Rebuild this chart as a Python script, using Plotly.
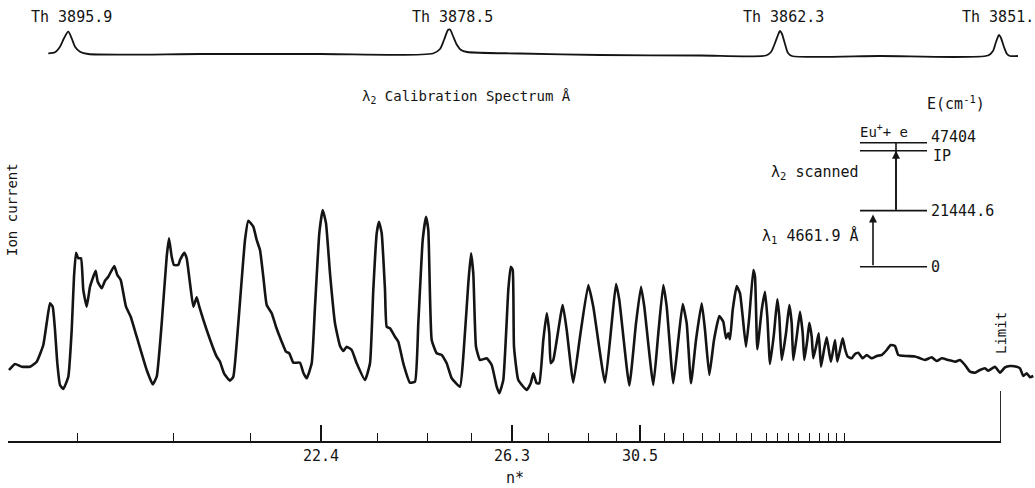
import plotly.graph_objects as go

W, H = 1035, 488
INK = "#141414"
FONT = "DejaVu Sans Mono"

# ---------------- data ----------------
# Ion-current spectrum: scan position (lambda2 scan, chart units) vs ion current (arb. units)
scan_pos = [9, 15, 21.7, 30, 36.7, 43.3, 46.7, 50, 52.7, 55,
            57.3, 60, 63.3, 68.3, 71.7, 74, 76, 78.3, 81, 83.3,
            86.7, 90, 93.3, 95.7, 97.7, 101.7, 105, 108.3, 114.3, 117.3,
            120.7, 126, 130.7, 136.7, 146.7, 152.7, 156.7, 161.7, 166.7, 169,
            171.7, 174, 178.3, 180, 184.3, 186.7, 190, 193.3, 196.7, 199.3,
            206.7, 216.7, 220, 224, 230, 233.3, 238.3, 245, 248.3, 253.3,
            256.7, 260, 263.3, 266.7, 271.7, 276, 281.7, 286, 289.3, 293.3,
            300, 303.3, 306.7, 311.7, 315, 319.3, 322.7, 326, 330, 335,
            340, 343.3, 346.7, 351.7, 356.7, 365, 370, 373.3, 376.7, 379,
            381.7, 385, 386.7, 390, 395, 398.3, 403.3, 410, 415, 418.3,
            422.7, 426, 428.3, 431.7, 436.7, 441.7, 446.7, 451.7, 460, 463.3,
            468.3, 471, 473.3, 476, 480, 486.7, 491.7, 496.7, 499.3, 503.3,
            508.3, 510.7, 512.7, 514, 518.3, 526.7, 530.7, 533.3, 536.7, 539.3,
            543.3, 546.7, 549.3, 550.7, 553.3, 562.7, 566.7, 573.3, 580, 588.3,
            593.3, 605, 611.7, 616, 619.3, 629.3, 636, 641, 644.3, 653.3,
            658.3, 663.3, 666.7, 673.3, 678.3, 682.7, 686.7, 691, 696, 701.7,
            705, 709.3, 714, 719.3, 723.3, 726, 728.3, 730, 732.7, 736.7,
            740, 742.7, 746, 749.3, 753.3, 755, 757.3, 761.7, 765, 767.3,
            770, 774, 777.3, 779.3, 781.7, 786, 789.3, 791.7, 793.3, 796.7,
            800, 802.7, 804.3, 807.3, 809.3, 811.7, 813.3, 816.7, 818.7, 821,
            824, 826.7, 829.3, 831, 835, 837.3, 840.7, 842.7, 845.3, 847.7,
            851.7, 855, 858.3, 862.7, 866.7, 871.7, 876.7, 881.7, 886.7, 890.7,
            895, 898.3, 906.7, 915, 920, 925, 931.7, 936.7, 941.7, 948.3,
            955, 960, 965, 970, 975, 980, 985, 988.3, 995, 1000,
            1005, 1010, 1016.7, 1020, 1023.3, 1026.7, 1030, 1033.3]
ion_current = [30, 36, 33.3, 33.3, 38.3, 55, 77, 96.7, 93.3, 70,
               37, 15, 11, 23.3, 70, 123.3, 147.3, 141.7, 141.7, 110,
               93.3, 113.3, 123.3, 129.3, 118.3, 111.7, 119.3, 123.3, 134, 125,
               120, 93.3, 83.3, 63.3, 30, 15.7, 23.3, 76.7, 143.3, 161.7,
               143.3, 135, 135, 140, 147.3, 141.7, 116.7, 93.3, 102.7, 93.3,
               70, 43.3, 38.3, 26.7, 19.3, 23.3, 76.7, 160, 179.3, 173.3,
               160, 150, 123.3, 95, 86.7, 73.3, 58.3, 48.3, 46.7, 37.3,
               37.3, 27.3, 21.7, 36.7, 93.3, 166.7, 190, 176.7, 126.7, 76.7,
               54, 49, 53.3, 50, 36.7, 20, 36.7, 110, 166.7, 178.3,
               166.7, 110, 73.3, 71.7, 63.3, 58.3, 36.7, 17.3, 18.3, 76.7,
               160, 183.3, 170, 60, 46.7, 45, 36.7, 21.7, 13.3, 43.3,
               116.7, 146.7, 126.7, 53.3, 40, 41.7, 35, 13.3, 6.7, 20,
               110, 133.3, 130, 53.3, 20, 10, 16.7, 26.7, 16.7, 16.7,
               60, 86.7, 66.7, 36.7, 40, 95, 70, 17.3, 63.3, 115,
               93.3, 17.3, 76.7, 116, 100, 14.5, 76.7, 113.3, 93.3, 15,
               66.7, 115, 93.3, 16.7, 60, 96, 76.7, 16.7, 60, 96.7,
               70, 25, 60, 84, 78.3, 61.7, 66.7, 60.7, 90, 114,
               106.7, 83.3, 53.3, 83.3, 130, 123.3, 50.7, 90, 108.3, 83.3,
               36, 66.7, 100.7, 83.3, 40, 66.7, 95, 76.7, 40, 63.3,
               88.3, 66.7, 40, 60, 77.3, 63.3, 41.7, 56.7, 66.7, 33.3,
               50, 62.7, 46.7, 38.3, 60, 38.3, 53.3, 61.7, 50, 43.3,
               41.7, 46, 47.3, 41.7, 45, 41.7, 44, 45, 50, 55,
               54, 45, 44, 43.5, 41.7, 40, 42.7, 39, 41.7, 40,
               38.3, 40, 35, 28.3, 27.3, 30, 31.7, 29.3, 33.3, 27.3,
               32.7, 34, 33.3, 31.7, 24, 26.7, 22.7, 24]

# lambda2 calibration spectrum (Th lines), same scan axis
cal_pos = [48.3, 55, 60, 64, 68.3, 71.7, 75, 80, 88.3, 200, 320,
           433, 440, 444, 448, 450, 453, 457, 461, 467, 520,
           600, 700, 766, 771, 775, 778, 780, 782, 785, 788, 792, 880,
           988, 993, 996, 999, 1001, 1004, 1007, 1010, 1018]
cal_intensity = [6.7, 7.7, 13.3, 21.7, 28.3, 21.7, 13.3, 8.3, 6, 6, 6,
                 6.5, 11, 20, 30, 30.5, 24, 15, 10, 8, 6.5,
                 5, 4.5, 4.5, 8, 17, 25, 29, 26, 16, 7, 4, 4,
                 4.5, 9, 18, 25, 22, 13, 6, 4, 4]
cal_peak_pos = [68.3, 449, 780, 999]
cal_labels = ["Th 3895.9", "Th 3878.5", "Th 3862.3", "Th 3851.6"]

# n* scale under the spectrum
nstar_major_pos = [321, 512, 640]
nstar_major_labels = ["22.4", "26.3", "30.5"]
nstar_minor_pos = [77, 173, 250, 377, 427, 471, 548, 588, 616, 664, 683, 702,
                   719, 736, 751, 766, 777, 788, 798, 809, 819, 828, 836, 844]
limit_pos = 1001

# energy level scheme (cm^-1)
level_energies = [0, 21444.6, 47404]
level_labels = ["0", "21444.6", "47404"]

# ---------------- layout helpers (pixel frame of the page) ----------------
def py(p):          # page pixel row -> paper fraction
    return 1 - p / H

def px(p):          # page pixel column -> paper fraction
    return p / W

# energy axis: 0 at row 266.7, 47404 at row 142.7 (schematic diagram)
pix_per_cm = (266.7 - 142.7) / 47404.0
e_bottom = -(H - 266.7) / pix_per_cm
e_top = 266.7 / pix_per_cm

fig = go.Figure()

fig.add_trace(go.Scatter(
    x=scan_pos, y=ion_current, mode="lines", xaxis="x", yaxis="y",
    line=dict(color=INK, width=2.6, shape="spline", smoothing=0.4),
    hoverinfo="skip", showlegend=False))

fig.add_trace(go.Scatter(
    x=cal_pos, y=cal_intensity, mode="lines", xaxis="x", yaxis="y2",
    line=dict(color=INK, width=1.8, shape="spline", smoothing=0.7),
    hoverinfo="skip", showlegend=False))

# dummy trace so that the n* axis subplot exists
fig.add_trace(go.Scatter(
    x=[nstar_major_pos[0]], y=[0.5], mode="markers", xaxis="x2", yaxis="y3",
    marker=dict(opacity=0), hoverinfo="skip", showlegend=False))

# dummy trace for energy axis
fig.add_trace(go.Scatter(
    x=[scan_pos[0]], y=[level_energies[0]], mode="markers", xaxis="x", yaxis="y4",
    marker=dict(opacity=0), hoverinfo="skip", showlegend=False))

axis_line_row = 441
fig.update_layout(
    width=W, height=H,
    margin=dict(l=0, r=0, t=0, b=0),
    paper_bgcolor="white", plot_bgcolor="rgba(0,0,0,0)",
    font=dict(family=FONT, color=INK, size=15),
    xaxis=dict(domain=[0, 1], range=[0, W], visible=False, anchor="y"),
    yaxis=dict(domain=[0, 1], range=[400 - H, 400], visible=False),
    yaxis2=dict(overlaying="y", range=[60 - H, 60], visible=False),
    yaxis4=dict(overlaying="y", range=[e_bottom, e_top], visible=False),
    xaxis2=dict(
        domain=[px(8), px(limit_pos)], range=[8, limit_pos], anchor="y3",
        showline=True, linecolor=INK, linewidth=1.8, mirror=False,
        showgrid=False, zeroline=False,
        ticks="inside", ticklen=16, tickwidth=1.6, tickcolor=INK,
        tickmode="array", tickvals=nstar_major_pos, ticktext=nstar_major_labels,
        tickfont=dict(family=FONT, size=15, color=INK),
        ticklabelstandoff=0,
        minor=dict(tickmode="array", tickvals=nstar_minor_pos, ticks="inside",
                   ticklen=8, tickwidth=1.4, tickcolor=INK, showgrid=False),
    ),
    yaxis3=dict(domain=[py(axis_line_row), py(axis_line_row) + 0.2], range=[0, 1],
                visible=False, anchor="x2"),
)

shapes = []
ann = []


def label(text, x, y, xref="paper", yref="paper", xanchor="center", yanchor="middle", **kw):
    d = dict(text=text, x=x, y=y, xref=xref, yref=yref, xanchor=xanchor,
             yanchor=yanchor, showarrow=False)
    d.update(kw)
    ann.append(d)


# Limit marker
shapes.append(dict(type="line", xref="x2", yref="paper",
                   x0=limit_pos, x1=limit_pos, y0=py(axis_line_row), y1=py(391),
                   line=dict(color=INK, width=1.8)))
label("Limit", limit_pos, py(333), xref="x2", textangle=-90, font=dict(size=14))

# calibration labels
for pos, lab in zip(cal_peak_pos, cal_labels):
    label(lab, pos, py(17), xref="x", xshift=3, font=dict(size=15))
label("λ<sub>2</sub> Calibration Spectrum Å", px(466), py(97), font=dict(size=14))

# axis titles
label("Ion current", px(12), py(210), textangle=-90, font=dict(size=14))
label("n*", px(515), py(478), font=dict(size=15))

# energy level diagram
lx0, lx1 = px(860), px(927)
for e, lab in zip(level_energies, level_labels):
    shapes.append(dict(type="line", xref="paper", yref="y4", x0=lx0, x1=lx1, y0=e, y1=e,
                       line=dict(color=INK, width=1.6)))
    if e == level_energies[-1]:
        label(lab, px(929), e, yref="y4", xanchor="left", yanchor="bottom", yshift=-5,
              font=dict(size=15))
    else:
        label(lab, px(929), e, yref="y4", xanchor="left", font=dict(size=15))
ip_draw = level_energies[2] - 8 / pix_per_cm
shapes.append(dict(type="line", xref="paper", yref="y4", x0=lx0, x1=lx1, y0=ip_draw, y1=ip_draw,
                   line=dict(color=INK, width=1.6)))
label("IP", px(931), ip_draw, yref="y4", xanchor="left", yanchor="top", yshift=6,
      font=dict(size=15))
label("Eu<sup>+</sup>+ e", px(884), level_energies[2], yref="y4", yanchor="bottom", yshift=1,
      font=dict(size=14))
label("E(cm<sup>-1</sup>)", px(956), py(103), font=dict(size=15))

# transitions
a1x, a2x = px(873), px(896)
shapes.append(dict(type="line", xref="paper", yref="y4", x0=a2x, x1=a2x,
                   y0=level_energies[1], y1=level_energies[2], line=dict(color=INK, width=1.6)))
ann.append(dict(text="", xref="paper", yref="y4", x=a1x, y=level_energies[1],
                axref="pixel", ax=0, ayref="y4", ay=level_energies[0], showarrow=True,
                arrowhead=2, arrowsize=1, arrowwidth=1.6, arrowcolor=INK, standoff=4))
ann.append(dict(text="", xref="paper", yref="y4", x=a2x, y=ip_draw,
                axref="pixel", ax=0, ayref="y4", ay=level_energies[1], showarrow=True,
                arrowhead=2, arrowsize=1, arrowwidth=1.6, arrowcolor=INK, standoff=0))
label("λ<sub>2</sub> scanned", px(861), py(172), xanchor="right", font=dict(size=15))
label("λ<sub>1</sub> 4661.9 Å", px(861), py(236), xanchor="right", font=dict(size=15))

fig.update_layout(shapes=shapes, annotations=ann)
fig.write_html("out.html", config={"displayModeBar": False},
               post_script="document.body.style.margin='0px';")
